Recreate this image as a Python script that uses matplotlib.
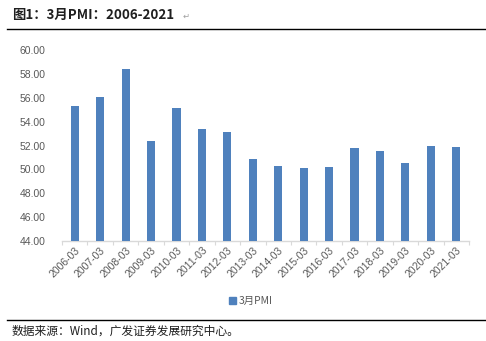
import matplotlib
matplotlib.use("Agg")
import matplotlib.pyplot as plt
from matplotlib.lines import Line2D
import numpy as np

plt.rcParams['font.family'] = ['Noto Sans CJK SC', 'DejaVu Sans']

categories = ["2006-03", "2007-03", "2008-03", "2009-03", "2010-03", "2011-03",
              "2012-03", "2013-03", "2014-03", "2015-03", "2016-03", "2017-03",
              "2018-03", "2019-03", "2020-03", "2021-03"]
pmi = [55.3, 56.1, 58.4, 52.4, 55.1, 53.4, 53.1, 50.9, 50.3, 50.1, 50.2, 51.8,
       51.5, 50.5, 52.0, 51.9]
yticks = [44, 46, 48, 50, 52, 54, 56, 58, 60]
series_name = "3月PMI"
title = "图1：3月PMI：2006-2021"
source = "数据来源：Wind，广发证券发展研究中心。"

fig = plt.figure(figsize=(4.86, 3.41), dpi=100)
ax = fig.add_axes([62/486, 1-241/341, (469-62)/486, (241-50)/341])

x = np.arange(len(categories))
ax.bar(x, pmi, width=0.32, color="#4F81BD", label=series_name, zorder=3)
ax.set_ylim(44, 60)
ax.set_xlim(-0.5, len(categories)-0.5)
ax.set_yticks(yticks)
ax.set_yticklabels([f"{v:.2f}" for v in yticks], fontsize=7.5, color="#595959",
                   family=['Liberation Sans', 'DejaVu Sans'])
ax.set_xticks(x)
ax.set_xticklabels(categories, rotation=45, ha="right", rotation_mode="anchor",
                   fontsize=7.5, color="#595959", family=['Liberation Sans', 'DejaVu Sans'])
ax.tick_params(axis='x', length=0, pad=3)
ax.tick_params(axis='y', length=0, pad=12)
ax.set_xticks(np.arange(-0.5, len(categories)), minor=True)
ax.tick_params(axis='x', which='minor', length=3, color="#D9D9D9", width=0.8)
for s in ["top", "right", "left"]:
    ax.spines[s].set_visible(False)
ax.spines["bottom"].set_color("#D9D9D9")
ax.spines["bottom"].set_linewidth(1.0)

leg = fig.legend(handles=[plt.Rectangle((0, 0), 1, 1, color="#4F81BD")],
                 labels=[series_name], loc="center", bbox_to_anchor=(251/486, 1-301/341),
                 frameon=False, fontsize=7.5, handlelength=0.6, handleheight=0.6,
                 handletextpad=0.3, labelcolor="#595959")

fig.text(12/486, 1-15/341, title, fontsize=9.6, fontweight="bold", color="#1F1F1F",
         va="center", ha="left")
fig.text(183/486, 1-16/341, "↵", fontsize=6, color="#A0A0A0", va="center", ha="left",
         family=['DejaVu Sans'])
fig.add_artist(Line2D([7/486, 486/486], [1-29/341, 1-29/341], color="black", lw=1.0))
fig.add_artist(Line2D([7/486, 486/486], [1-320/341, 1-320/341], color="black", lw=1.0))
fig.text(12/486, 1-331/341, source, fontsize=8.5, color="#1F1F1F", va="center", ha="left")

fig.savefig("out.png", dpi=100)
